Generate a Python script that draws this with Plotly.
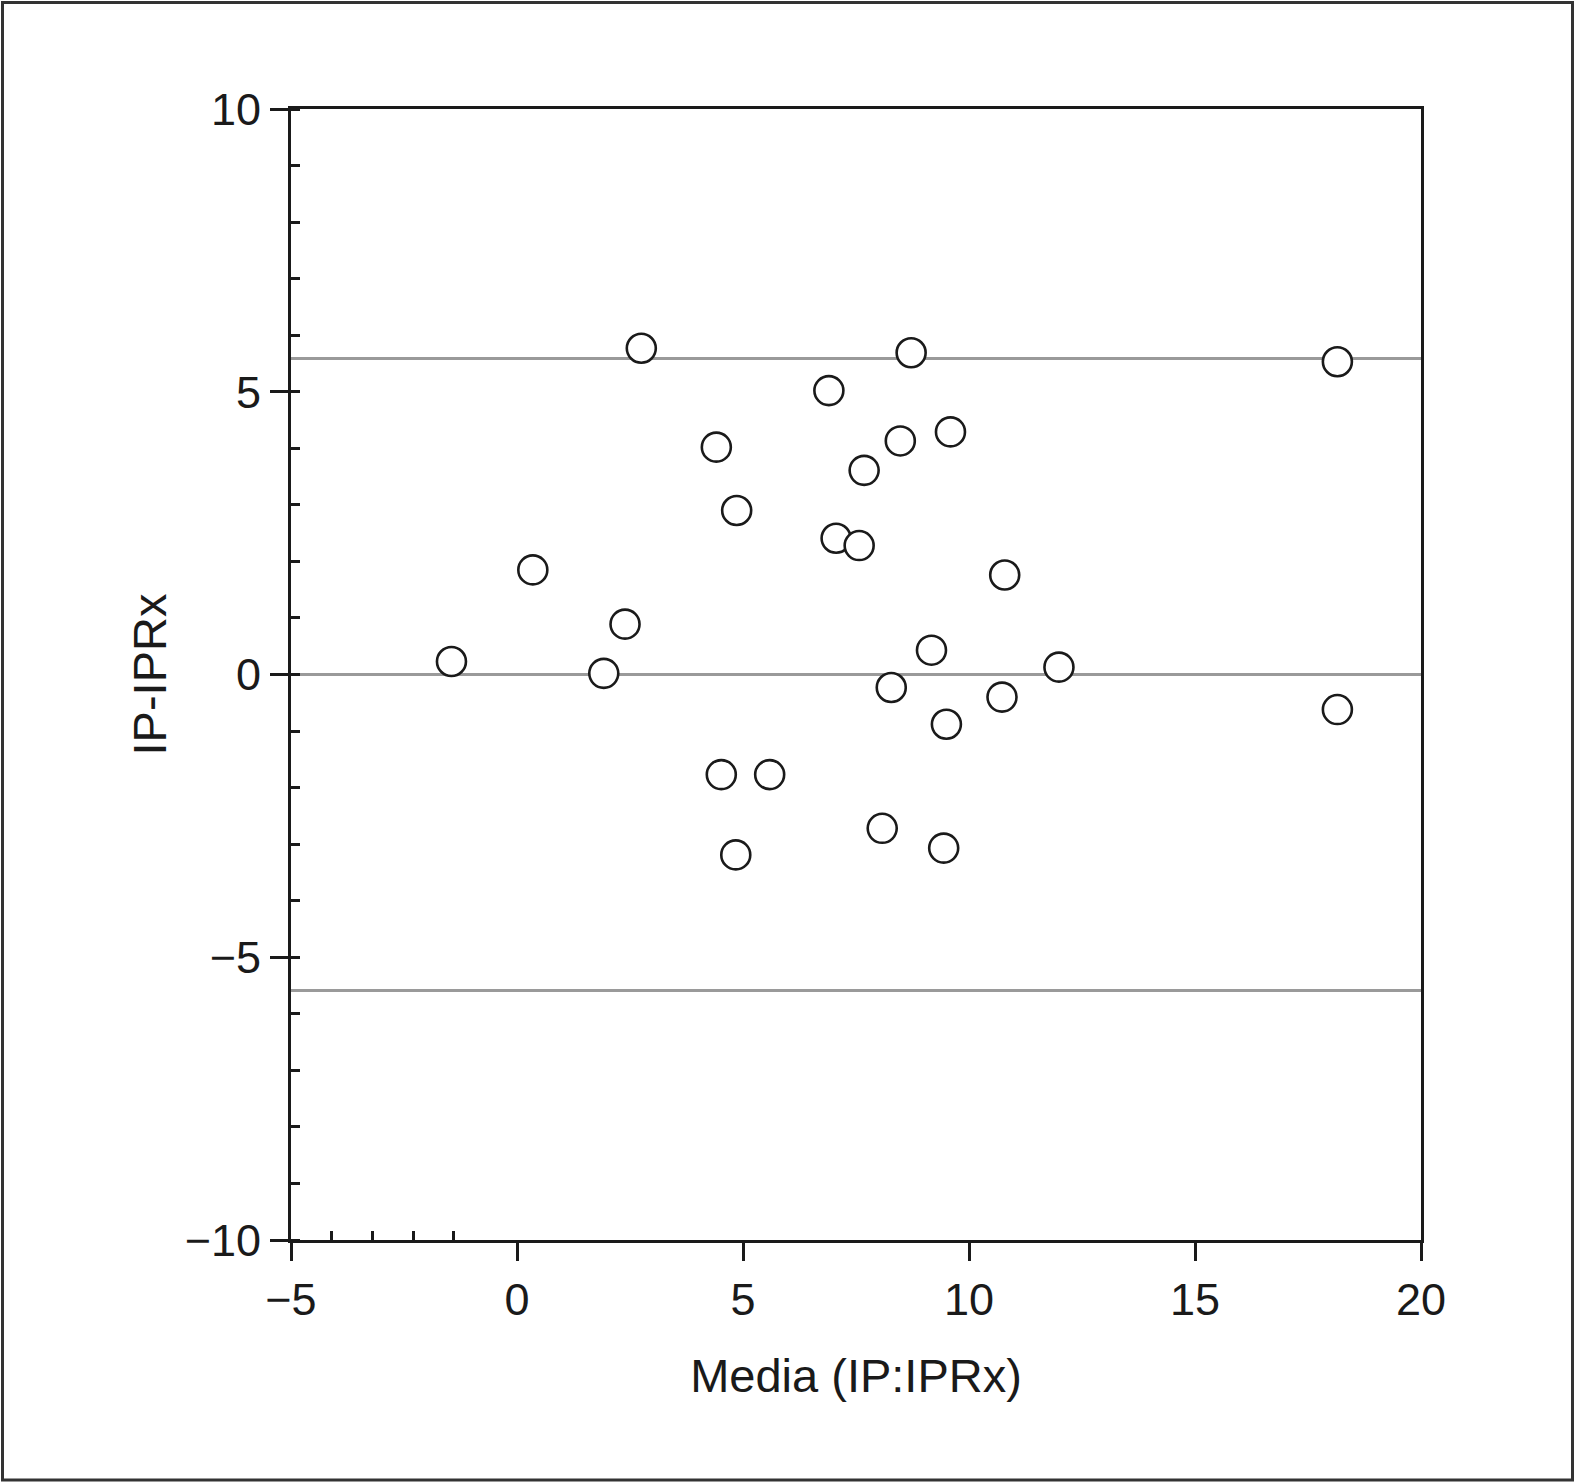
import plotly.graph_objects as go

# Bland-Altman data
media = [-1.45, 0.35, 1.92, 2.39, 2.75, 4.41, 4.86, 4.52, 5.59, 4.84,
         6.90, 7.06, 7.57, 7.68, 8.48, 8.72, 9.59, 8.28, 9.17, 9.50,
         8.08, 9.44, 10.79, 10.73, 11.99, 18.15, 18.15]
diferencia = [0.23, 1.85, 0.02, 0.89, 5.77, 4.02, 2.90, -1.77, -1.77, -3.19,
              5.02, 2.41, 2.28, 3.61, 4.13, 5.69, 4.29, -0.23, 0.43, -0.88,
              -2.72, -3.07, 1.76, -0.40, 0.13, 5.53, -0.62]

ref_lines = [5.59, 0.0, -5.59]
x_minor_ticks = [-4.1, -3.2, -2.3, -1.4]

W, H = 1575, 1483
ML, MR, MT, MB = 291, 154, 109, 243
FONT = "Liberation Sans, Arial, Helvetica, sans-serif"
INK = "#1a1a1a"

fig = go.Figure()

for yv in ref_lines:
    fig.add_hline(y=yv, line=dict(color="#9a9a9a", width=3), layer="below")

fig.add_trace(go.Scatter(
    x=media, y=diferencia, mode="markers",
    marker=dict(symbol="circle", size=29, color="white",
                line=dict(color=INK, width=2.6)),
    showlegend=False, hoverinfo="x+y"))

# empty trace so the extra tick axis is built
fig.add_trace(go.Scatter(x=[], y=[], xaxis="x2", showlegend=False))

fig.update_layout(
    width=W, height=H,
    margin=dict(l=ML, r=MR, t=MT, b=MB),
    paper_bgcolor="white", plot_bgcolor="white",
    font=dict(family=FONT, size=45, color=INK),
    xaxis=dict(
        range=[-5, 20], tickvals=[-5, 0, 5, 10, 15, 20],
        ticktext=["\u22125", "0", "5", "10", "15", "20"],
        ticks="outside", ticklen=18, tickwidth=2.6, tickcolor=INK,
        showline=True, linewidth=3, linecolor=INK, mirror=True,
        showgrid=False, zeroline=False,
        title=dict(text="Media (IP:IPRx)", font=dict(size=47), standoff=36),
    ),
    xaxis2=dict(
        overlaying="x", anchor="y", side="bottom", range=[-5, 20],
        tickvals=x_minor_ticks, ticks="inside", ticklen=9, tickwidth=2.6,
        tickcolor=INK, showticklabels=False, showline=False,
        showgrid=False, zeroline=False,
    ),
    yaxis=dict(
        range=[-10, 10], tickvals=[-10, -5, 0, 5, 10],
        ticktext=["\u221210", "\u22125", "0", "5", "10"],
        ticks="outside", ticklen=18, tickwidth=2.6, tickcolor=INK,
        minor=dict(dtick=1, ticks="inside", ticklen=9, tickwidth=2.6,
                   tickcolor=INK, showgrid=False),
        showline=True, linewidth=3, linecolor=INK, mirror=True,
        showgrid=False, zeroline=False,
        title=dict(text="IP-IPRx", font=dict(size=47), standoff=4),
    ),
)

# outer frame around the whole figure
pw, ph = W - ML - MR, H - MT - MB
fig.add_shape(type="rect", xref="paper", yref="paper",
              x0=(2.5 - ML) / pw, x1=(W - 2.5 - ML) / pw,
              y0=-(H - 3 - (H - MB)) / ph, y1=(H - MB - 2.5) / ph,
              line=dict(color="#333333", width=3))

fig.write_html("out.html", config={"displayModeBar": False},
               post_script="document.body.style.margin='0px';")
